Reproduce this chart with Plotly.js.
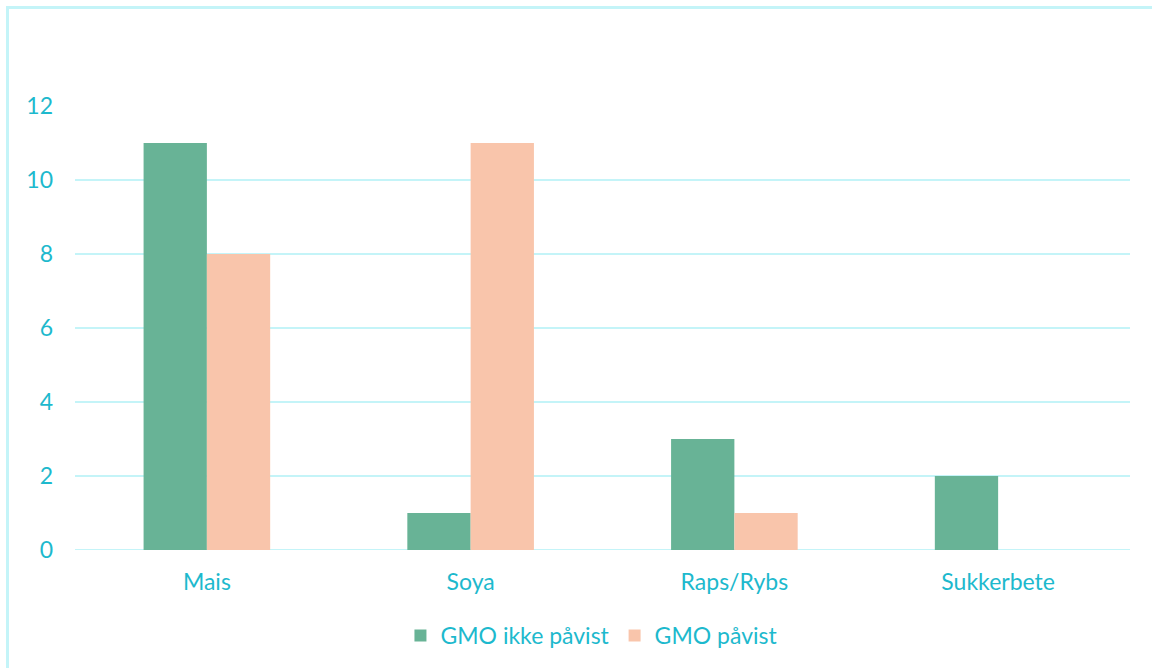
<!DOCTYPE html>
<html>
<head>
<meta charset="utf-8">
<script src="https://cdn.plot.ly/plotly-3.0.1.min.js"></script>
<style>
  html, body { margin: 0; padding: 0; background: #ffffff; overflow: hidden; }
  #frame { position: absolute; left: 6px; top: 6px; width: 1160px; height: 680px;
           border: 3px solid #C4F4F8; box-sizing: border-box; pointer-events: none; z-index: 2; }
  #chart { position: absolute; left: 0; top: 0; width: 1152px; height: 668px; }
</style>
</head>
<body>
<div id="chart"></div>
<div id="frame"></div>
<script>
// Antall prøver per vekst
const categories = ["Mais", "Soya", "Raps/Rybs", "Sukkerbete"];
const ikkePavist = [11, 1, 3, 2];
const pavist = [8, 11, 1, 0];
const seriesNames = ["GMO ikke påvist", "GMO påvist"];

const textColor = "#1DB9CD";
const gridColor = "#C4F4F8";
const fontFamily = "Lato, 'Open Sans', sans-serif";
const fontSize = 23;

const traces = [
  { type: "bar", name: seriesNames[0], x: categories, y: ikkePavist,
    marker: { color: "#68B396" }, hoverinfo: "x+y" },
  { type: "bar", name: seriesNames[1], x: categories, y: pavist,
    marker: { color: "#F9C5AB" }, hoverinfo: "x+y" }
];

const layout = {
  width: 1152, height: 668,
  margin: { l: 75, r: 22, t: 106, b: 117 },
  paper_bgcolor: "#ffffff", plot_bgcolor: "#ffffff",
  font: { family: fontFamily, color: textColor, size: fontSize },
  barmode: "group",
  bargap: 0.52,
  bargroupgap: 0,
  xaxis: {
    type: "category",
    showgrid: false, zeroline: false, showline: false,
    ticks: "", ticklabelstandoff: 16,
    tickfont: { size: fontSize, color: textColor }
  },
  yaxis: {
    range: [0, 12], dtick: 2, tick0: 0,
    showgrid: true, gridcolor: gridColor, gridwidth: 2,
    zeroline: false, showline: false, ticks: "",
    ticklabelstandoff: 21,
    tickfont: { size: fontSize, color: textColor }
  },
  shapes: [
    { type: "line", xref: "paper", yref: "y", x0: 0, x1: 1, y0: 0, y1: 0,
      line: { color: gridColor, width: 2 }, layer: "below" }
  ],
  showlegend: true,
  legend: {
    orientation: "h", x: 0.49, xanchor: "center", y: -0.19, yanchor: "middle",
    font: { size: fontSize, color: textColor }, itemwidth: 30, traceorder: "normal"
  }
};

Plotly.newPlot("chart", traces, layout, { displayModeBar: false, staticPlot: true });
</script>
</body>
</html>
